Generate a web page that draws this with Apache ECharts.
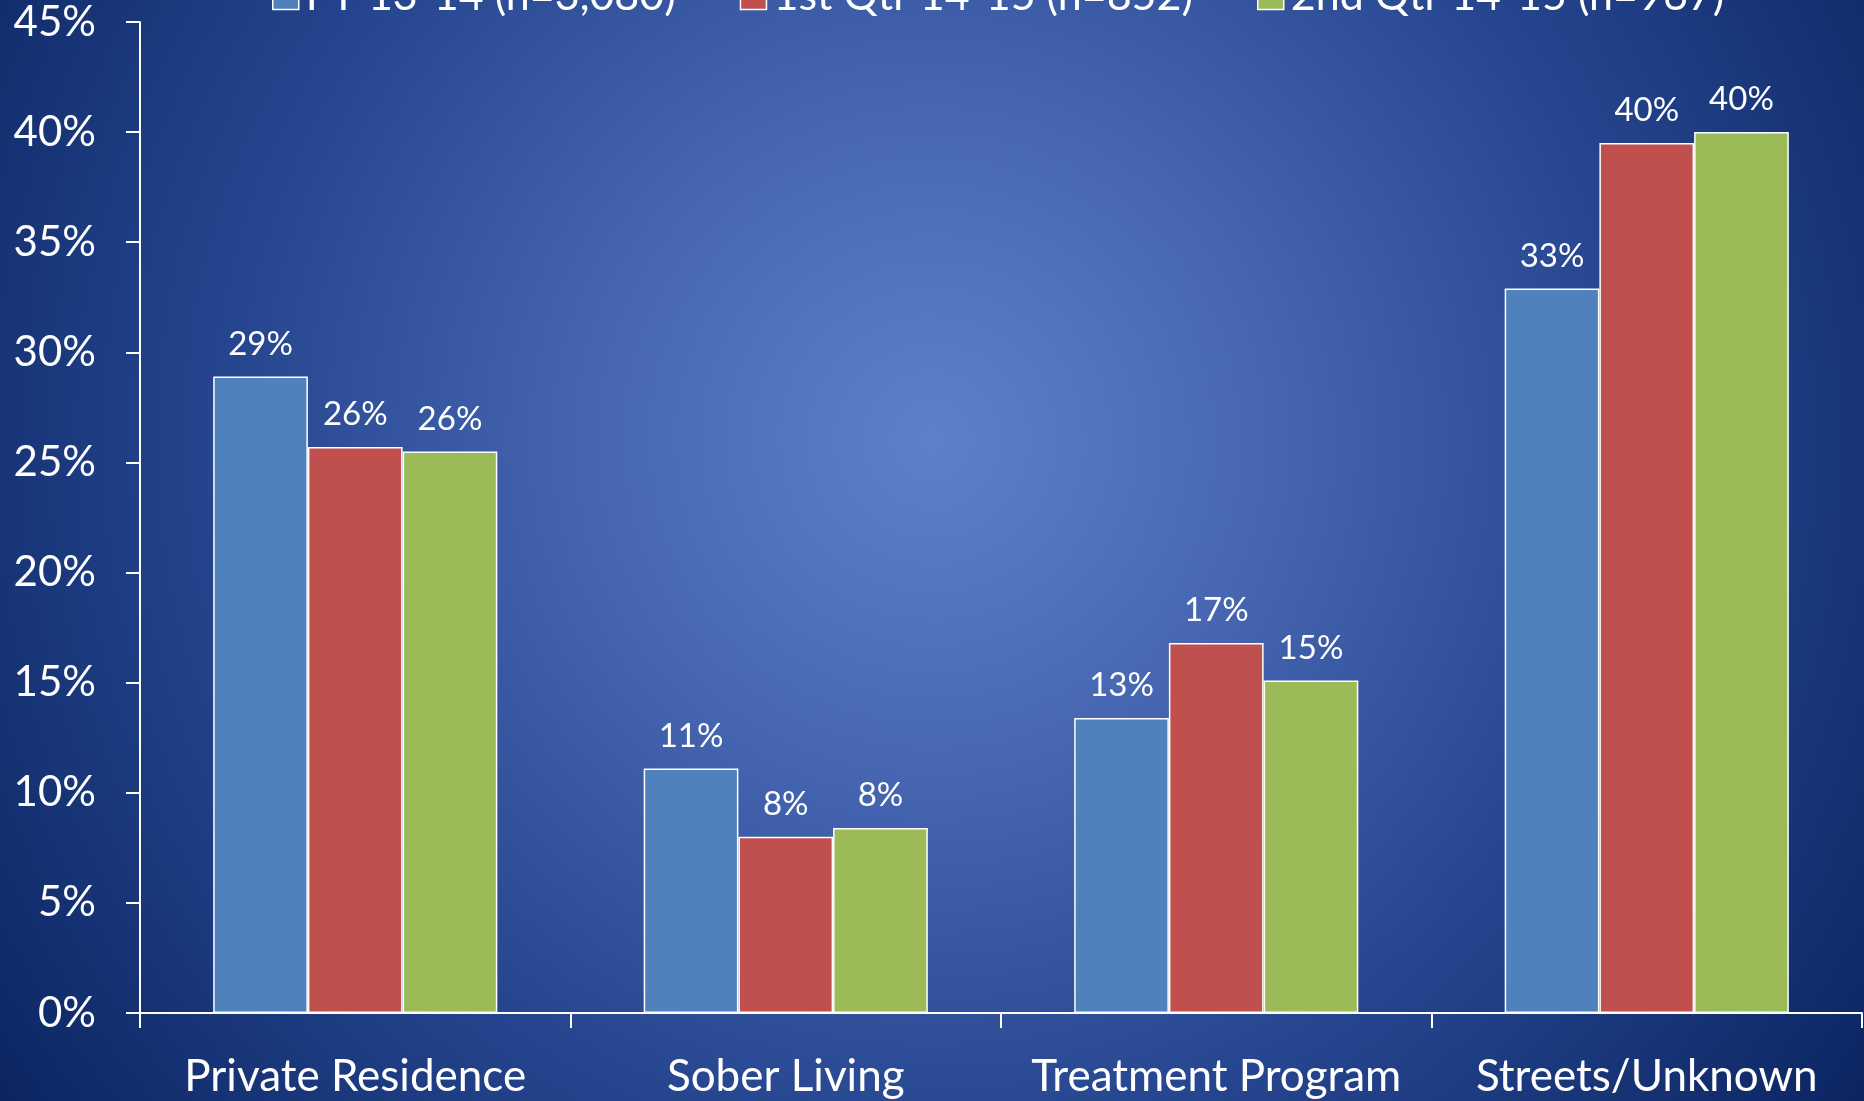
<!DOCTYPE html>
<html>
<head>
<meta charset="utf-8">
<script src="https://cdn.jsdelivr.net/npm/echarts@6/dist/echarts.min.js"></script>
<style>
html,body{margin:0;padding:0;width:1864px;height:1101px;overflow:hidden;}
#c{width:1864px;height:1101px;}
</style>
</head>
<body>
<div id="c"></div>
<script>
const categories = ['Private Residence', 'Sober Living', 'Treatment Program', 'Streets/Unknown'];
const seriesNames = ['FY 13-14 (n=3,080)', '1st Qtr 14-15 (n=852)', '2nd Qtr 14-15 (n=967)'];
const fy1314 = [28.9, 11.1, 13.4, 32.9];
const q1_1415 = [25.7, 8.0, 16.8, 39.5];
const q2_1415 = [25.5, 8.4, 15.1, 40.0];
const yTicks = [0, 5, 10, 15, 20, 25, 30, 35, 40, 45];

const colors = ['#4f81bd', '#c0504d', '#9bbb59'];
const FONT = 'Lato';

const chart = echarts.init(document.getElementById('c'), null, {renderer: 'canvas'});
const mk = (name, data, color) => ({
  name, type: 'bar', data,
  barGap: '0%', barCategoryGap: '34%',
  itemStyle: {color, borderColor: '#ffffff', borderWidth: 1.5},
  label: {
    show: true, position: 'top', distance: 16,
    color: '#ffffff', fontFamily: FONT, fontSize: 33,
    formatter: p => Math.round(p.value) + '%'
  }
});

chart.setOption({
  backgroundColor: {
    type: 'radial', x: 0.5, y: 0.4, r: 1.05,
    colorStops: [
      {offset: 0, color: '#5e80ca'},
      {offset: 0.3, color: '#4565b0'},
      {offset: 0.6, color: '#264690'},
      {offset: 1, color: '#0a2460'}
    ]
  },
  textStyle: {fontFamily: FONT},
  legend: {
    top: -30, left: 267,
    itemWidth: 26, itemHeight: 26, itemGap: 64,
    icon: 'rect',
    itemStyle: {borderColor: '#ffffff', borderWidth: 1.5},
    textStyle: {color: '#ffffff', fontFamily: FONT, fontSize: 43, padding: [0, 0, 0, 2]},
    data: seriesNames
  },
  grid: {left: 140, right: 2, top: 22, bottom: 88, containLabel: false},
  xAxis: {
    type: 'category', data: categories,
    axisLine: {lineStyle: {color: '#ffffff', width: 2}},
    axisTick: {show: true, length: 15, lineStyle: {color: '#ffffff', width: 2}},
    axisLabel: {color: '#ffffff', fontFamily: FONT, fontSize: 44, margin: 42, interval: 0}
  },
  yAxis: {
    type: 'value', min: 0, max: 45, interval: 5,
    axisLine: {show: true, lineStyle: {color: '#ffffff', width: 2}},
    axisTick: {show: true, length: 14, lineStyle: {color: '#ffffff', width: 2}},
    splitLine: {show: false},
    axisLabel: {
      color: '#ffffff', fontFamily: FONT, fontSize: 42, margin: 44,
      formatter: v => (yTicks.indexOf(v) >= 0 ? v + '%' : '')
    }
  },
  series: [
    mk(seriesNames[0], fy1314, colors[0]),
    mk(seriesNames[1], q1_1415, colors[1]),
    mk(seriesNames[2], q2_1415, colors[2])
  ]
});
</script>
</body>
</html>
